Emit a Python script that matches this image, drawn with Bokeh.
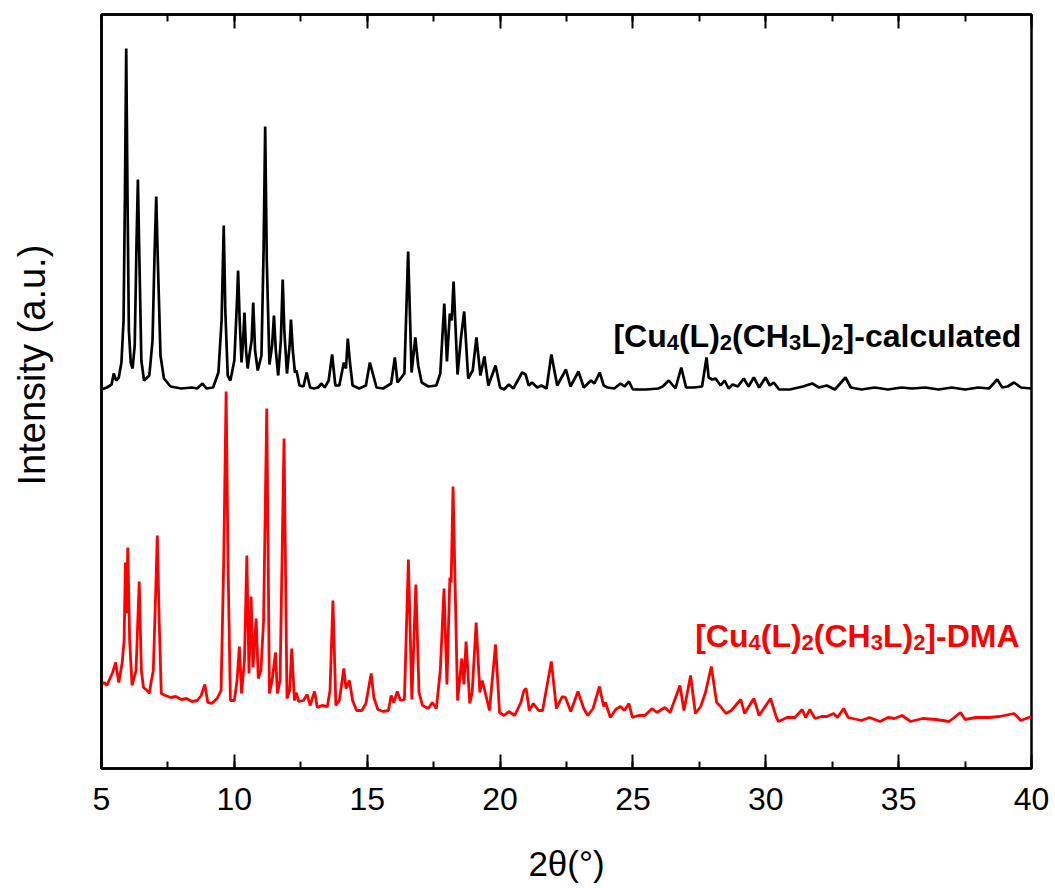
from bokeh.plotting import figure
from bokeh.models import LinearAxis, SingleIntervalTicker, FixedTicker, Label, CustomJSTickFormatter
from bokeh.embed import file_html
from bokeh.resources import INLINE

# ---- data ----
calc_2theta = [
    5.00, 5.20, 5.38, 5.46, 5.55, 5.65, 5.75, 5.83, 5.88, 5.93,
    5.98, 6.03, 6.10, 6.17, 6.25, 6.32, 6.37, 6.42, 6.50, 6.60,
    6.80, 6.92, 7.00, 7.06, 7.12, 7.22, 7.35, 7.60, 8.00, 8.40,
    8.60, 8.80, 8.95, 9.20, 9.40, 9.52, 9.60, 9.66, 9.75, 9.85,
    10.00, 10.10, 10.14, 10.20, 10.27, 10.33, 10.38, 10.44, 10.50, 10.58,
    10.65, 10.71, 10.78, 10.88, 11.02, 11.10, 11.16, 11.22, 11.32, 11.42,
    11.49, 11.56, 11.65, 11.75, 11.82, 11.88, 11.98, 12.08, 12.13, 12.20,
    12.28, 12.34, 12.45, 12.60, 12.72, 12.85, 13.00, 13.15, 13.28, 13.40,
    13.55, 13.68, 13.80, 13.95, 14.12, 14.20, 14.27, 14.35, 14.45, 14.70,
    14.95, 15.10, 15.20, 15.35, 15.60, 15.90, 16.04, 16.14, 16.40, 16.54,
    16.67, 16.81, 16.92, 17.05, 17.30, 17.60, 17.75, 17.90, 18.00, 18.11,
    18.18, 18.25, 18.40, 18.53, 18.65, 18.80, 18.97, 19.11, 19.26, 19.41,
    19.56, 19.83, 20.00, 20.15, 20.33, 20.50, 20.83, 20.96, 21.08, 21.20,
    21.40, 21.55, 21.75, 21.93, 22.15, 22.48, 22.65, 22.95, 23.15, 23.42,
    23.55, 23.75, 23.90, 24.05, 24.30, 24.53, 24.68, 24.85, 25.00, 25.50,
    25.95, 26.12, 26.35, 26.60, 26.82, 27.00, 27.30, 27.60, 27.77, 27.85,
    27.98, 28.11, 28.30, 28.45, 28.60, 28.75, 28.95, 29.17, 29.35, 29.55,
    29.75, 29.99, 30.15, 30.30, 30.50, 30.90, 31.40, 31.75, 32.00, 32.30,
    32.60, 33.00, 33.20, 33.60, 34.10, 34.60, 35.10, 35.50, 36.00, 36.50,
    37.00, 37.50, 38.00, 38.40, 38.71, 38.90, 39.10, 39.34, 39.60, 40.00,
]
calc_intensity = [
    379, 381, 384, 395, 388, 391, 406, 448, 568, 720,
    568, 438, 406, 400, 423, 528, 589, 518, 408, 388,
    393, 428, 518, 572, 508, 413, 390, 382, 380, 381,
    380, 385, 380, 381, 396, 448, 543, 458, 393, 388,
    408, 468, 498, 448, 406, 428, 456, 418, 400, 416,
    428, 466, 418, 398, 413, 518, 642, 508, 404, 423,
    453, 418, 393, 428, 489, 438, 395, 423, 449, 418,
    396, 398, 383, 382, 396, 381, 380, 381, 385, 381,
    388, 414, 383, 383, 406, 400, 430, 406, 383, 380,
    383, 406, 396, 381, 380, 385, 411, 386, 395, 517,
    396, 431, 403, 386, 382, 383, 395, 465, 407, 455,
    448, 487, 394, 431, 457, 390, 398, 431, 393, 412,
    383, 403, 381, 379, 384, 380, 396, 394, 383, 386,
    381, 383, 380, 414, 383, 399, 382, 397, 381, 388,
    385, 396, 383, 381, 380, 385, 382, 387, 379, 379,
    380, 382, 388, 380, 401, 381, 381, 382, 411, 391,
    389, 390, 383, 388, 380, 384, 382, 390, 382, 391,
    381, 391, 383, 386, 379, 379, 382, 385, 381, 383,
    379, 391, 381, 379, 381, 379, 381, 380, 381, 379,
    381, 379, 381, 380, 389, 381, 382, 386, 381, 380,
]

dma_2theta = [
    5.00, 5.10, 5.20, 5.30, 5.42, 5.53, 5.65, 5.78, 5.85, 5.90,
    5.94, 5.99, 6.06, 6.15, 6.30, 6.42, 6.50, 6.58, 6.72, 6.80,
    6.87, 6.95, 7.03, 7.10, 7.17, 7.25, 7.40, 7.60, 7.80, 8.00,
    8.20, 8.40, 8.60, 8.75, 8.89, 9.00, 9.15, 9.35, 9.50, 9.60,
    9.69, 9.76, 9.85, 10.00, 10.10, 10.19, 10.27, 10.38, 10.47, 10.55,
    10.63, 10.70, 10.82, 10.90, 11.00, 11.10, 11.22, 11.32, 11.42, 11.55,
    11.62, 11.72, 11.87, 11.98, 12.08, 12.16, 12.26, 12.33, 12.42, 12.60,
    12.74, 12.85, 13.02, 13.12, 13.30, 13.50, 13.60, 13.71, 13.82, 13.95,
    14.12, 14.20, 14.33, 14.45, 14.60, 14.80, 14.95, 15.15, 15.25, 15.40,
    15.60, 15.80, 15.90, 16.00, 16.13, 16.25, 16.40, 16.55, 16.68, 16.83,
    16.95, 17.08, 17.30, 17.45, 17.60, 17.75, 17.89, 18.00, 18.11, 18.16,
    18.23, 18.40, 18.56, 18.64, 18.72, 18.86, 18.95, 19.10, 19.24, 19.33,
    19.45, 19.60, 19.83, 19.98, 20.15, 20.33, 20.55, 20.78, 20.90, 20.98,
    21.10, 21.25, 21.45, 21.60, 21.93, 22.12, 22.34, 22.46, 22.66, 22.93,
    23.15, 23.30, 23.50, 23.74, 23.90, 23.97, 24.15, 24.35, 24.53, 24.68,
    24.85, 24.98, 25.20, 25.45, 25.72, 25.90, 26.20, 26.40, 26.77, 26.92,
    27.17, 27.35, 27.55, 27.73, 27.95, 28.15, 28.30, 28.50, 28.70, 29.06,
    29.20, 29.55, 29.75, 30.18, 30.40, 30.48, 30.80, 31.10, 31.37, 31.50,
    31.66, 31.85, 32.10, 32.30, 32.55, 32.70, 32.93, 33.10, 33.60, 33.90,
    34.30, 34.60, 34.85, 35.13, 35.45, 35.90, 36.40, 36.90, 37.33, 37.50,
    37.90, 38.40, 38.80, 39.34, 39.60, 40.00,
]
dma_intensity = [
    84, 86, 83, 89, 96, 106, 86, 106, 128, 206,
    155, 221, 128, 83, 98, 187, 98, 81, 78, 75,
    87, 98, 168, 233, 148, 75, 73, 71, 72, 69,
    70, 67, 68, 73, 84, 66, 65, 70, 78, 208,
    377, 208, 68, 68, 88, 122, 75, 108, 213, 95,
    172, 101, 150, 90, 98, 148, 360, 75, 88, 116,
    75, 88, 330, 70, 78, 120, 68, 76, 67, 68,
    74, 63, 77, 61, 63, 62, 78, 168, 63, 68,
    100, 80, 88, 68, 58, 58, 65, 95, 71, 59,
    57, 58, 73, 66, 77, 68, 69, 209, 69, 184,
    76, 63, 60, 66, 60, 98, 180, 84, 191, 186,
    282, 68, 110, 84, 127, 65, 76, 146, 76, 88,
    75, 58, 124, 56, 53, 57, 53, 66, 78, 80,
    58, 65, 58, 58, 107, 60, 72, 71, 57, 77,
    60, 53, 60, 82, 62, 66, 51, 59, 62, 58,
    65, 51, 53, 53, 60, 56, 61, 56, 83, 58,
    93, 55, 62, 76, 102, 66, 62, 55, 58, 69,
    55, 70, 53, 70, 51, 47, 51, 51, 59, 51,
    59, 50, 52, 52, 55, 51, 60, 51, 48, 51,
    47, 51, 50, 53, 47, 50, 49, 47, 56, 49,
    51, 51, 52, 55, 48, 52,
]

x_ticks_interval = 5
x_label = "2\u03b8(\u00b0)"
y_label = "Intensity (a.u.)"
# (text, is_subscript) pieces of the two series names
calc_name = [("[Cu", False), ("4", True), ("(L)", False), ("2", True), ("(CH", False),
             ("3", True), ("L)", False), ("2", True), ("]-calculated", False)]
dma_name = [("[Cu", False), ("4", True), ("(L)", False), ("2", True), ("(CH", False),
            ("3", True), ("L)", False), ("2", True), ("]-DMA", False)]

FONT = "Liberation Sans"

p = figure(width=1055, height=888, x_range=(5, 40), y_range=(0, 754),
           output_backend="svg", toolbar_location=None,
           min_border_left=101, min_border_right=24,
           min_border_top=14, min_border_bottom=120,
           background_fill_color="white", border_fill_color="white")
p.grid.visible = False
p.outline_line_color = "black"
p.outline_line_width = 2.5

p.line(calc_2theta, calc_intensity, line_color="black", line_width=2.7)
p.line(dma_2theta, dma_intensity, line_color="#ff0000", line_width=2.8)

xa = p.xaxis[0]
xa.ticker = SingleIntervalTicker(interval=x_ticks_interval, num_minor_ticks=2)
xa.axis_line_width = 2.5
xa.major_tick_in = 14
xa.major_tick_out = 0
xa.minor_tick_in = 7
xa.minor_tick_out = 0
xa.major_tick_line_width = 2
xa.minor_tick_line_width = 2
xa.major_label_text_font = FONT
xa.major_label_text_font_size = "32px"
xa.major_label_text_color = "black"
xa.major_label_standoff = 19
xa.axis_label = x_label
xa.axis_label_text_font = FONT
xa.axis_label_text_font_size = "35px"
xa.axis_label_text_font_style = "normal"
xa.axis_label_text_color = "black"
xa.axis_label_standoff = 31

top = LinearAxis(ticker=SingleIntervalTicker(interval=x_ticks_interval, num_minor_ticks=2),
                 formatter=CustomJSTickFormatter(code="return ''"))
top.axis_line_width = 2.5
top.major_tick_in = 14
top.major_tick_out = 0
top.minor_tick_in = 7
top.minor_tick_out = 0
top.major_tick_line_width = 2
top.minor_tick_line_width = 2
top.major_label_text_font_size = "10px"
top.major_label_standoff = 0
p.add_layout(top, "above")

ya = p.yaxis[0]
ya.ticker = FixedTicker(ticks=[])
ya.axis_line_width = 2.5
ya.major_tick_out = 0
ya.major_tick_in = 0
ya.minor_tick_out = 0
# leading no-break spaces lift the centred title slightly above the frame middle, as in the reference
ya.axis_label = "\u00a0" * 5 + y_label
ya.axis_label_text_font = FONT
ya.axis_label_text_font_size = "38px"
ya.axis_label_text_font_style = "normal"
ya.axis_label_text_color = "black"
ya.axis_label_standoff = 49

# Arial/Liberation Sans Bold advance widths (per 1000 em) for laying out the subscripted names
ADV = {'[': 333, ']': 333, '(': 333, ')': 333, '-': 333, 'C': 722, 'u': 611, 'L': 611,
       'H': 722, 'c': 556, 'a': 556, 'l': 278, 't': 333, 'e': 556, 'd': 611,
       'D': 722, 'M': 833, 'A': 722}
MAIN_PX, SUB_PX, SUB_DROP = 32, 22, 7


def text_width(s, size):
    return sum(ADV.get(ch, 556) for ch in s) * size / 1000.0


def add_name(pieces, x_right, y_base, color):
    widths = [text_width(s, SUB_PX if sub else MAIN_PX) for s, sub in pieces]
    off = -sum(widths)
    for (s, sub), w in zip(pieces, widths):
        p.add_layout(Label(x=x_right, y=y_base, x_offset=off, y_offset=-SUB_DROP if sub else 0,
                           text=s, text_align="left", text_baseline="alphabetic",
                           text_font=FONT, text_font_style="bold",
                           text_font_size=f"{SUB_PX if sub else MAIN_PX}px", text_color=color))
        off += w


add_name(calc_name, 39.62, 433, "black")
add_name(dma_name, 39.55, 133, "#ff0000")

open("out.html", "w").write(file_html(p, INLINE))
